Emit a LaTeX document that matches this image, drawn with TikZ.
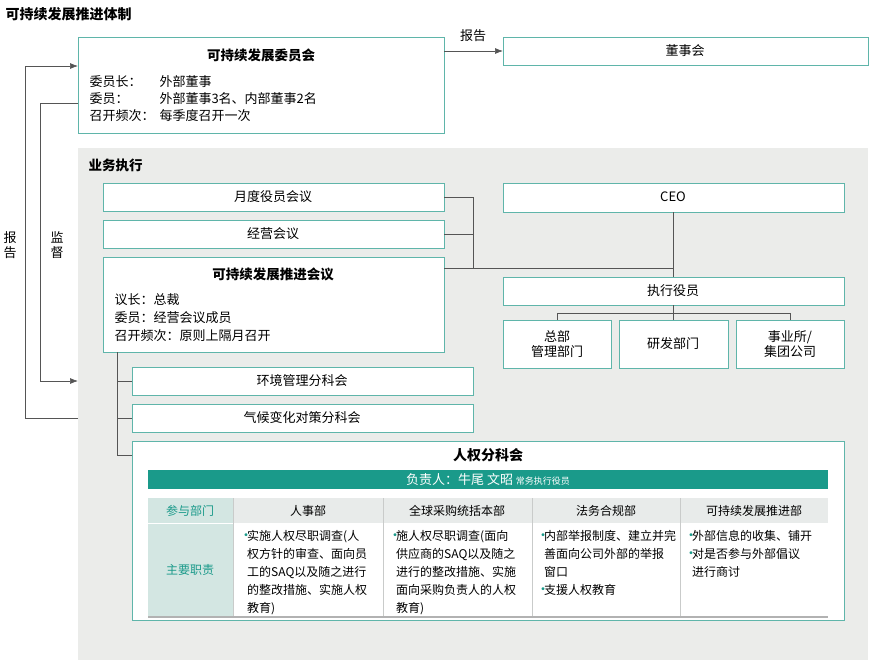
\documentclass[tikz,border=0pt]{standalone}
\usepackage{fontspec}
\setmainfont{Noto Sans CJK SC}
\usetikzlibrary{arrows.meta}
\definecolor{bx}{HTML}{5FB5AA}
\definecolor{teal}{HTML}{1A9A8A}
\definecolor{lt}{HTML}{D3E6E2}
\definecolor{hg}{HTML}{E8EBEA}
\definecolor{bg}{HTML}{EBECEA}
\definecolor{ln}{HTML}{555555}
\begin{document}
\begin{tikzpicture}[x=1pt,y=-1pt,font=\fontsize{13}{15}\selectfont,
 box/.style={draw=bx,fill=white,line width=0.9pt},
 con/.style={draw=ln,line width=0.7pt},
 arr/.style={con,-{Latex[length=8pt,width=6pt]}}]
\useasboundingbox (0,0) rectangle (870,662);
\node[anchor=west,font=\fontsize{14}{16}\selectfont\bfseries] (title) at (2,14) {可持续发展推进体制};
% committee
\draw[box] (78,37) rectangle (444,133);
\coordinate (cL) at (78,66);
\node[font=\fontsize{13.5}{15}\selectfont\bfseries] (ctit) at (261,55) {可持续发展委员会};
\node[anchor=west] (c1) at (86,82) {委员长：};
\node[anchor=west] (c2) at (86,99) {委员：};
\node[anchor=west] (c3) at (86,116) {召开频次：};
\node[anchor=west] (v1) at (156,82) {外部董事};
\node[anchor=west] (v2) at (156,99) {外部董事3名、内部董事2名};
\node[anchor=west] (v3) at (156,116) {每季度召开一次};
\draw[box] (503,37) rectangle (868,65);
\node (board) at (685,51) {董事会};
\coordinate (cR) at (444,51);
\coordinate (bL) at (503,51);
\draw[arr] (cR) -- (bL);
\node (rep1) at (473,36) {报告};
% grey region
\fill[bg] (78,148) rectangle (868,660);
\node[anchor=west,font=\fontsize{13.5}{15}\selectfont\bfseries] (exec) at (85,165) {业务执行};
\draw[box] (103,183) rectangle (444,211); \node (m1) at (273,197) {月度役员会议};
\draw[box] (103,220) rectangle (444,248); \node (m2) at (273,234) {经营会议};
\draw[box] (103,257) rectangle (444,352);
\node[font=\fontsize{13.5}{15}\selectfont\bfseries] (m3) at (273,274) {可持续发展推进会议};
\node[anchor=west] (p1) at (111,300) {议长：总裁};
\node[anchor=west] (p2) at (111,318) {委员：经营会议成员};
\node[anchor=west] (p3) at (111,336) {召开频次：原则上隔月召开};
\draw[con] (444,197) -- (473,197) -- (473,268);
\draw[con] (444,234) -- (473,234);
\draw[con] (444,268) -- (673,268);
\draw[box] (503,183) rectangle (844,212); \node (ceo) at (673,197) {CEO};
\draw[box] (503,277) rectangle (844,305); \node (eo) at (673,291) {执行役员};
\draw[con] (673,212) -- (673,277);
\draw[con] (673,305) -- (673,313);
\draw[con] (557,320) -- (557,313) -- (790,313) -- (790,320);
\draw[con] (673,313) -- (673,320);
\draw[box] (503,320) rectangle (611,368); \node[align=center] (d1) at (557,344) {总部\\管理部门};
\draw[box] (619,320) rectangle (728,368); \node (d2) at (673,344) {研发部门};
\draw[box] (736,320) rectangle (844,368); \node[align=center] (d3) at (790,344) {事业所/\\集团公司};
% sub committees
\draw[con] (117,352) -- (117,455);
\draw[con] (117,381) -- (132,381);
\draw[con] (117,418) -- (132,418);
\draw[con] (117,455) -- (132,455);
\draw[box] (132,367) rectangle (473,395); \node (s1) at (302,381) {环境管理分科会};
\draw[box] (132,404) rectangle (473,432); \node (s2) at (302,418) {气候变化对策分科会};
\draw[box] (132,441) rectangle (844,620);
\node[font=\fontsize{14}{16}\selectfont\bfseries] (hr) at (488,455) {人权分科会};
\fill[teal] (148,470) rectangle (828,489);
\node[text=white] (resp) at (488,479.5) {负责人：牛尾 文昭 {\fontsize{9}{10}\selectfont 常务执行役员}};
% table
\fill[lt] (148,498) rectangle (233,617);
\fill[hg] (233,498) rectangle (828,523);
\draw[white,line width=1pt] (148,523) -- (828,523);
\foreach \x in {233,383,532,680} \draw[draw=hg!70!gray,line width=0.6pt] (\x,498) -- (\x,617);
\draw[draw=gray!60,line width=1.2pt] (148,617) -- (828,617);
\node[text=teal,font=\fontsize{12}{14}\selectfont] (t0) at (190,510.5) {参与部门};
\node[font=\fontsize{12}{14}\selectfont] (t1) at (308,510.5) {人事部};
\node[font=\fontsize{12}{14}\selectfont] (t2) at (457,510.5) {全球采购统括本部};
\node[font=\fontsize{12}{14}\selectfont] (t3) at (606,510.5) {法务合规部};
\node[font=\fontsize{12}{14}\selectfont] (t4) at (754,510.5) {可持续发展推进部};
\node[text=teal,font=\fontsize{12}{14}\selectfont] (r0) at (190,570) {主要职责};
\tikzset{cell/.style={anchor=north west,text width=150pt,align=left,font=\fontsize{12}{18}\selectfont,inner sep=0pt}}
\newcommand{\bl}{\makebox[8pt][l]{\textcolor{teal}{\fontsize{14}{14}\selectfont•}}}
\newcommand{\ind}{\hspace*{8pt}}
\node[cell] (b1) at (239,530) {\bl 实施人权尽职调查(人\\\ind 权方针的审查、面向员\\\ind 工的SAQ以及随之进行\\\ind 的整改措施、实施人权\\\ind 教育)};
\node[cell] (b2) at (388,530) {\bl 施人权尽职调查(面向\\\ind 供应商的SAQ以及随之\\\ind 进行的整改措施、实施\\\ind 面向采购负责人的人权\\\ind 教育)};
\node[cell] (b3) at (536,530) {\bl 内部举报制度、建立并完\\\ind 善面向公司外部的举报\\\ind 窗口\\\bl 支援人权教育};
\node[cell] (b4) at (684,530) {\bl 外部信息的收集、铺开\\\bl 对是否参与外部倡议\\\ind 进行商讨};
% outer connectors
\coordinate (gA) at (78,418);
\coordinate (gB) at (78,381);
\draw[arr] (gA) -- (25,418) -- (25,66) -- (cL);
\draw[arr] (78,103) -- (40,103) -- (40,381) -- (gB);
\node[align=center,font=\fontsize{13}{15}\selectfont] (rep2) at (10,245) {报\\告};
\node[align=center,font=\fontsize{13}{15}\selectfont] (sup2) at (57,245) {监\\督};
\end{tikzpicture}
\end{document}
